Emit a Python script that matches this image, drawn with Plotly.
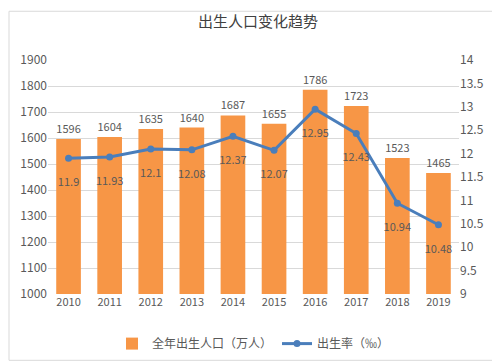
import plotly.graph_objects as go

years = ["2010", "2011", "2012", "2013", "2014", "2015", "2016", "2017", "2018", "2019"]
births = [1596, 1604, 1635, 1640, 1687, 1655, 1786, 1723, 1523, 1465]
rate = [11.9, 11.93, 12.1, 12.08, 12.37, 12.07, 12.95, 12.43, 10.94, 10.48]

FONT = "Noto Sans CJK SC"
GRAY = "#595959"

fig = go.Figure()
fig.add_trace(go.Bar(
    x=years, y=births, name="全年出生人口（万人）",
    marker=dict(color="#F79646", line=dict(width=0)),
    text=[str(v) for v in births], textposition="outside",
    textfont=dict(color=GRAY, size=11, family=FONT), cliponaxis=False,
))
fig.add_trace(go.Scatter(
    x=years, y=rate, name="出生率（‰）", yaxis="y2", mode="lines+markers+text",
    line=dict(color="#4A7EBB", width=3), marker=dict(size=7, color="#4A7EBB"),
    text=[("<span style='font-size:6px'> </span><br>%g" % v) for v in rate],
    textposition="bottom center",
    textfont=dict(color=GRAY, size=11, family=FONT), cliponaxis=False,
))

L = 40
W = 500 - L - 49

fig.update_layout(
    width=500, height=362,
    margin=dict(l=L, r=49, t=52, b=70),
    paper_bgcolor="white", plot_bgcolor="white",
    font=dict(family=FONT, color=GRAY, size=11),
    title=dict(text="出生人口变化趋势", x=0.5, xanchor="center", y=0.962, yanchor="middle",
               font=dict(size=15, color="#404040", family=FONT)),
    bargap=0.4,
    showlegend=True,
    legend=dict(orientation="h", x=0.5, xanchor="center", y=-0.15, yanchor="top",
                font=dict(size=12, color=GRAY, family=FONT)),
    xaxis=dict(type="category", range=[-0.5, len(years) - 0.5], autorange=False,
               showgrid=False, showline=False, ticks="",
               tickfont=dict(size=11), automargin=False),
    yaxis=dict(range=[1000, 1900], dtick=100, gridcolor="#D9D9D9", showline=False,
               zeroline=False, tickfont=dict(size=12), ticks="", automargin=False),
    yaxis2=dict(range=[9, 14], dtick=0.5, overlaying="y", side="right", showgrid=False,
                showline=False, zeroline=False, tickfont=dict(size=12), ticks="",
                automargin=False),
    shapes=[dict(type="rect", xref="paper", yref="paper",
                 x0=(1 - L) / W, x1=(498 - L) / W,
                 y0=(292 - 360) / 240, y1=(292 - 2) / 240,
                 line=dict(color="#D9D9D9", width=1))],
)

fig.write_html("out.html")
